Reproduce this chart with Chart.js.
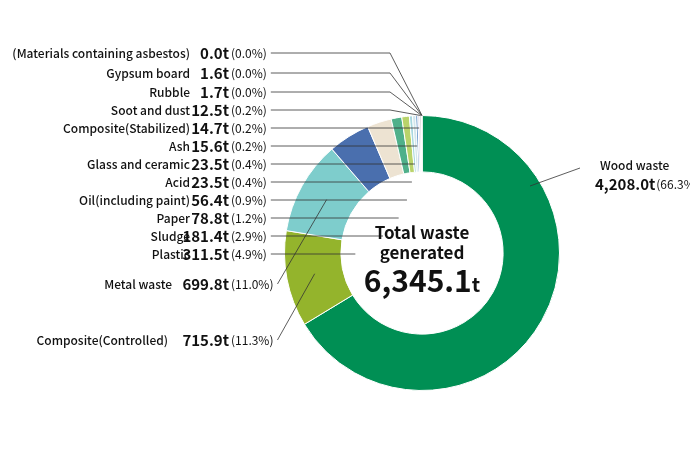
<!DOCTYPE html><html><head><meta charset="utf-8">
<script src="https://cdn.jsdelivr.net/npm/chart.js@4"></script>
<style>html,body{margin:0;background:#fff}#w{width:690px;height:450px}</style></head><body><div id="w"><canvas id="c"></canvas></div>
<script>
const categories=["Wood waste","Composite(Controlled)","Metal waste","Plastic","Sludge","Paper","Oil(including paint)","Acid","Glass and ceramic","Ash","Composite(Stabilized)","Soot and dust","Rubble","Gypsum board","(Materials containing asbestos)"];
const values=[4208.0,715.9,699.8,311.5,181.4,78.8,56.4,23.5,23.5,15.6,14.7,12.5,1.7,1.6,0.0];
const valueLabels=["4,208.0t","715.9t","699.8t","311.5t","181.4t","78.8t","56.4t","23.5t","23.5t","15.6t","14.7t","12.5t","1.7t","1.6t","0.0t"];
const percents=["66.3%","11.3%","11.0%","4.9%","2.9%","1.2%","0.9%","0.4%","0.4%","0.2%","0.2%","0.2%","0.0%","0.0%","0.0%"];
const colors=["#008f54","#94b42c","#7ecdcc","#4a6fae","#ede3d2","#4fb08a","#b9d36a","#a8d8e0","#d2e6ec","#5a8fc8","#dcd5e8","#c8c8c8","#e8e8e8","#bbbbbb","#999999"];
const total="6,345.1";
const F='"Noto Sans CJK JP","Noto Sans",sans-serif';
// label rows (layout) for indexes 14..3 top-to-bottom, then Metal, Composite
const rowY={14:53,13:73,12:92,11:110,10:128,9:146,8:164,7:182,6:200,5:218,4:236,3:254,2:284,1:340};
const labelPlugin={id:'lbl',afterDraw(ch){
 const ctx=ch.ctx,meta=ch.getDatasetMeta(0);
 ctx.save();ctx.textBaseline='middle';ctx.strokeStyle='#333';ctx.lineWidth=0.8;
 for(let i=1;i<categories.length;i++){
  const y=rowY[i];const a=meta.data[i];
  const mid=(a.startAngle+a.endAngle)/2;
  ctx.fillStyle='#111';
  ctx.font='500 12px '+F;ctx.textAlign='right';
  ctx.fillText(categories[i],i<=2?(i==1?168:172):190,y);
  ctx.font='bold 15px '+F;ctx.fillText(valueLabels[i],229,y);
  ctx.font='12px '+F;ctx.textAlign='left';
  ctx.fillText('('+percents[i]+')',231,y);
  const pw=ctx.measureText('('+percents[i]+')').width;
  const x0=231+pw+4;
  let r,tx,ty;
  ctx.beginPath();ctx.moveTo(x0,y);
  if(i>=11){r=a.outerRadius;tx=a.x+Math.cos(mid)*r;ty=a.y+Math.sin(mid)*r;ctx.lineTo(390,y);ctx.lineTo(tx,ty);}
  else if(i>=3){r=a.outerRadius-12;tx=a.x+Math.cos(mid)*r;ty=a.y+Math.sin(mid)*r;ctx.lineTo(tx,y);}
  else{r=(a.outerRadius+a.innerRadius)/2;tx=a.x+Math.cos(mid)*r;ty=a.y+Math.sin(mid)*r;ctx.lineTo(tx,ty);}
  ctx.stroke();
 }
 // wood waste
 const a=meta.data[0];
 ctx.font='500 12px '+F;ctx.textAlign='left';ctx.fillText(categories[0],600,165);
 ctx.font='bold 15px '+F;ctx.fillText(valueLabels[0],595,184);
 let w=ctx.measureText(valueLabels[0]).width;
 ctx.font='12px '+F;ctx.fillText('('+percents[0]+')',595+w+1,184);
 ctx.beginPath();ctx.moveTo(580,168);ctx.lineTo(530,186);ctx.stroke();
 // center
 ctx.textAlign='center';ctx.fillStyle='#111';
 ctx.font='bold 17px '+F;ctx.fillText('Total waste',a.x,233);ctx.fillText('generated',a.x,253);
 ctx.font='bold 30px '+F;const t1=ctx.measureText(total).width;
 ctx.font='bold 20px '+F;const t2=ctx.measureText('t').width;
 const sx=a.x-(t1+t2)/2;ctx.textAlign='left';
 ctx.font='bold 30px '+F;ctx.fillText(total,sx,281);
 ctx.font='bold 20px '+F;ctx.fillText('t',sx+t1,284);
 ctx.restore();
}};
new Chart(document.getElementById('c'),{type:'doughnut',
 data:{labels:categories,datasets:[{data:values,backgroundColor:colors,borderColor:'#fff',borderWidth:1}]},
 options:{responsive:true,maintainAspectRatio:false,animation:false,cutout:'59%',
  layout:{padding:{left:284,right:130,top:115,bottom:59}},
  plugins:{legend:{display:false},tooltip:{enabled:false}}},
 plugins:[labelPlugin]});
</script></body></html>
